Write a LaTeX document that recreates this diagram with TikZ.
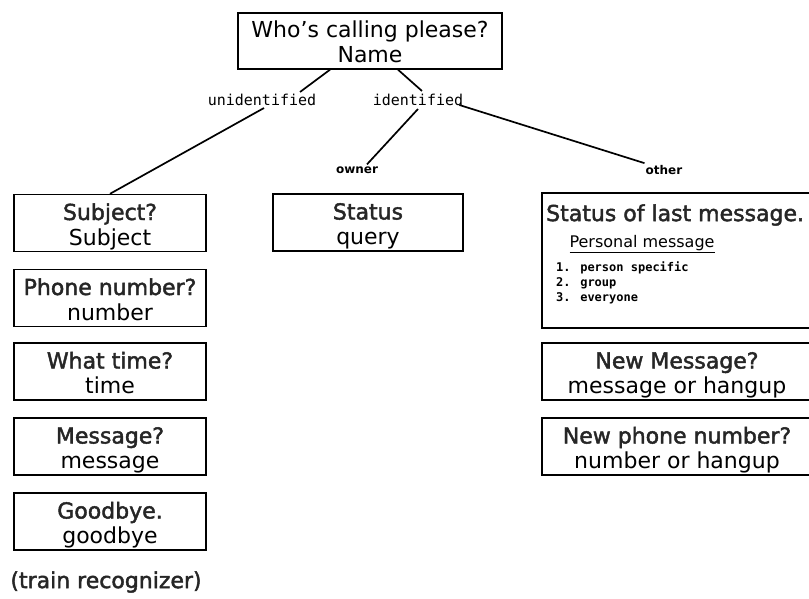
\documentclass[tikz,border=0pt]{standalone}
\usepackage{fontspec}
\setmainfont{DejaVu Sans}
\newfontfamily\labfont{DejaVu Sans Mono}
\newfontfamily\heavyfont[FakeBold=2]{DejaVu Sans}
\newcommand\hv[1]{{\heavyfont\color{black!85}#1}}
\usetikzlibrary{calc}
\begin{document}
\begin{tikzpicture}[x=1pt,y=-1pt,
  box/.style={draw, line width=1.4pt, minimum width=192pt, minimum height=57pt,
    inner sep=0pt, align=center, text height=44pt, text depth=0pt,
    font=\fontsize{22}{25}\selectfont},
  conn/.style={line width=1.7pt},
  lab/.style={font=\labfont\fontsize{15}{17}\selectfont, inner sep=1pt},
  sublab/.style={font=\fontsize{12}{14}\selectfont\bfseries, inner sep=1pt},
  plain/.style={inner sep=0pt, font=\fontsize{22}{25}\selectfont}]
\useasboundingbox (0,0) rectangle (809,599);

% top
\node[box, minimum width=264pt, minimum height=56pt] (top) at (370,41) {Who's calling please?\\Name};
\node[lab] (unid) at (262,100) {unidentified};
\node[lab] (idn) at (418,100) {identified};
\node[sublab] (owner) at (357,170) {owner};
\node[sublab] (other) at (664,170) {other};

% left column
\node[box] (subj) at (110,223) {\hv{Subject?}\\Subject};
\node[box] (phone) at (110,298) {\hv{Phone number?}\\number};
\node[box] (time) at (110,371.5) {\hv{What time?}\\time};
\node[box] (msg) at (110,446.5) {\hv{Message?}\\message};
\node[box] (bye) at (110,521.5) {\hv{Goodbye.}\\goodbye};
\node[plain] (train) at (106,582) {\hv{(train recognizer)}};

% middle
\node[box, minimum width=190pt] (status) at (368,222.5) {\hv{Status}\\query};

% right column
\node[box, minimum width=270pt, minimum height=135pt] (last) at (677,260.5) {};
\node[plain, anchor=west] (lasttitle) at (546,215) {\hv{Status of last message.}};
\node[inner sep=0pt, font=\fontsize{16}{18}\selectfont] (pm) at (642,244) {\underline{Personal message}};
\node[inner sep=0pt, anchor=north west, align=left,
  font=\fontsize{12}{15}\selectfont\labfont\bfseries] (items) at (556,262)
  {1. person specific\\2. group\\3. everyone};
\node[box, minimum width=270pt] (newmsg) at (677,371.5) {\hv{New Message?}\\message or hangup};
\node[box, minimum width=270pt] (newph) at (677,446.5) {\hv{New phone number?}\\number or hangup};

% connectors
\draw[conn] ($(top.south)+(-40,0)$) -- ($(unid.north)+(38,-1)$);
\draw[conn] ($(top.south)+(28,0)$) -- ($(idn.north)+(4,-2)$);
\draw[conn] ($(unid.south)+(2,1)$) -- (subj.north);
\draw[conn] ($(idn.south)+(0,2)$) -- ($(owner.north)+(10,-1)$);
\draw[conn] ($(idn.east)+(-5,5)$) -- ($(other.north west)+(0,-1)$);
\end{tikzpicture}
\end{document}
